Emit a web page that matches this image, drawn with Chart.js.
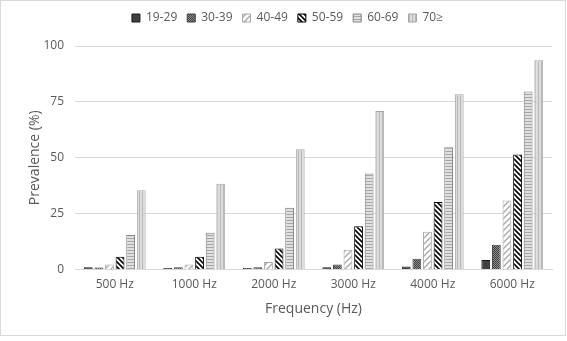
<!DOCTYPE html>
<html>
<head>
<meta charset="utf-8">
<script src="https://cdn.jsdelivr.net/npm/chart.js@4"></script>
<style>
  html, body {margin: 0; padding: 0; background: #fff;}
  #wrap {box-sizing: border-box; width: 566px; height: 336px; border: 1px solid #d9d9d9; position: relative;}
  #chart {display: block;}
</style>
</head>
<body>
<div id="wrap"><canvas id="chart" width="564" height="334"></canvas></div>
<script>
const frequencies = ['500 Hz', '1000 Hz', '2000 Hz', '3000 Hz', '4000 Hz', '6000 Hz'];
const ageGroups = ['19-29', '30-39', '40-49', '50-59', '60-69', '70≥'];

const age19_29 = [1.0, 0.7, 0.7, 1.0, 1.3, 4.3];
const age30_39 = [0.9, 1.0, 1.0, 2.2, 4.8, 11.1];
const age40_49 = [2.2, 2.2, 3.4, 8.8, 16.9, 30.9];
const age50_59 = [5.7, 5.7, 9.4, 19.4, 30.2, 51.4];
const age60_69 = [15.4, 16.4, 27.6, 42.9, 54.7, 79.6];
const age70up  = [35.5, 38.4, 53.8, 70.9, 78.4, 93.6];

const yTicks = [0, 25, 50, 75, 100];

const canvas = document.getElementById('chart'),
      ctx = canvas.getContext('2d');

function makePattern(size, draw) {
    const c = document.createElement('canvas');
    c.width = size; c.height = size;
    const p = c.getContext('2d');
    draw(p, size);
    return ctx.createPattern(c, 'repeat');
}

const fills = [
    '#404040',
    makePattern(2, (p) => {
        p.fillStyle = '#8c8c8c'; p.fillRect(0, 0, 2, 2);
        p.fillStyle = '#404040'; p.fillRect(0, 0, 1, 1); p.fillRect(1, 1, 1, 1);
    }),
    makePattern(6, (p, s) => {
        p.fillStyle = '#fff'; p.fillRect(0, 0, s, s);
        p.strokeStyle = '#a6a6a6'; p.lineWidth = 1.3;
        p.beginPath();
        p.moveTo(-1, s + 1); p.lineTo(s + 1, -1);
        p.moveTo(-1, 1); p.lineTo(1, -1);
        p.moveTo(s - 1, s + 1); p.lineTo(s + 1, s - 1);
        p.stroke();
    }),
    makePattern(5, (p, s) => {
        p.fillStyle = '#fff'; p.fillRect(0, 0, s, s);
        p.strokeStyle = '#000'; p.lineWidth = 1.6;
        p.beginPath();
        p.moveTo(-1, -1); p.lineTo(s + 1, s + 1);
        p.moveTo(-1, s - 1); p.lineTo(1, s + 1);
        p.moveTo(s - 1, -1); p.lineTo(s + 1, 1);
        p.stroke();
    }),
    makePattern(3, (p) => {
        p.fillStyle = '#e0e0e0'; p.fillRect(0, 0, 3, 3);
        p.fillStyle = '#a6a6a6'; p.fillRect(0, 0, 3, 1);
    }),
    makePattern(3, (p) => {
        p.fillStyle = '#dcdcdc'; p.fillRect(0, 0, 3, 3);
        p.fillStyle = '#b8b8b8'; p.fillRect(0, 0, 1, 3);
    })
];
const borders = ['#1a1a1a', '#404040', '#a6a6a6', '#000000', '#808080', '#a6a6a6'];
const series = [age19_29, age30_39, age40_49, age50_59, age60_69, age70up];

const textColor = '#595959',
      gridColor = '#d9d9d9',
      font = "'Open Sans', 'Noto Sans', sans-serif";

// extra room between the legend and the plot area
const legendGap = {
    id: 'legendGap',
    beforeLayout(chart) {
        const legend = chart.legend;
        if (!legend || legend._gapWrapped) return;
        const origFit = legend.fit;
        legend.fit = function () {
            origFit.call(this);
            this.height += 12;
        };
        legend._gapWrapped = true;
    }
};

const chart = new Chart(ctx, {
    type: 'bar',
    data: {
        labels: frequencies,
        datasets: series.map((values, i) => ({
            label: ageGroups[i],
            data: values,
            backgroundColor: fills[i],
            borderColor: borders[i],
            borderWidth: 1,
            categoryPercentage: 0.8,
            barPercentage: 0.83
        }))
    },
    options: {
        responsive: false,
        animation: false,
        layout: {padding: {top: 1, right: 13, left: 22, bottom: 14}},
        plugins: {
            legend: {
                position: 'top',
                labels: {
                    boxWidth: 8,
                    boxHeight: 8,
                    padding: 10,
                    color: textColor,
                    font: {family: font, size: 12}
                }
            },
            tooltip: {enabled: false}
        },
        scales: {
            x: {
                grid: {display: false, drawTicks: false},
                border: {color: gridColor, width: 1},
                ticks: {color: textColor, font: {family: font, size: 12}, padding: 8},
                title: {display: true, text: 'Frequency (Hz)', color: textColor,
                        font: {family: font, size: 14}, padding: {top: 6}},
                afterFit: (scale) => { scale.height = 334 - 268.5 - 14; }
            },
            y: {
                min: 0,
                max: 100,
                afterBuildTicks: (scale) => { scale.ticks = yTicks.map(v => ({value: v})); },
                grid: {color: gridColor, drawTicks: false},
                border: {display: false},
                ticks: {color: textColor, font: {family: font, size: 12}, padding: 11},
                title: {display: true, text: 'Prevalence (%)', color: textColor,
                        font: {family: font, size: 14}, padding: {bottom: 6}},
                afterFit: (scale) => { scale.width = 52; }
            }
        }
    },
    plugins: [legendGap]
});
</script>
</body>
</html>
